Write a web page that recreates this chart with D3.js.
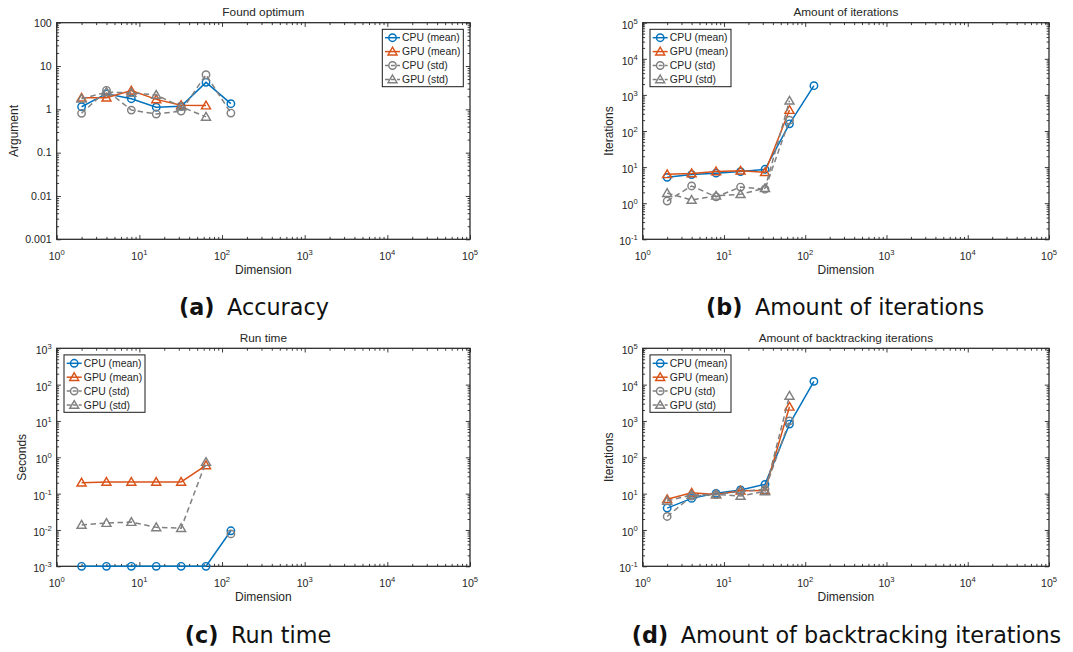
<!DOCTYPE html>
<html>
<head>
<meta charset="utf-8">
<script src="https://cdn.jsdelivr.net/npm/d3@7"></script>
<style>
  html, body { margin: 0; padding: 0; background: #fff; }
  svg { display: block; }
  .tick-label, .axis-label, .panel-title, .legend-text { font-family: "Liberation Sans", Arial, Helvetica, sans-serif; fill: #262626; }
  .caption { font-family: "DejaVu Sans", sans-serif; fill: #111; }
</style>
</head>
<body>
<svg id="fig" width="1073" height="652"></svg>
<script>
// Problem dimensions (x values shared by all four plots)
const dims = [2, 4, 8, 16, 32, 64, 128];

// (a) Found optimum
const accCpuMean = [1.15, 2.3, 1.76, 1.12, 1.18, 4.2, 1.35];
const accGpuMean = [1.85, 1.85, 2.7, 1.7, 1.25, 1.22, null];
const accCpuStd  = [0.81, 2.75, 0.96, 0.78, 0.91, 6.3, 0.82];
const accGpuStd  = [1.75, 2.5, 2.4, 2.15, 1.15, 0.67, null];

// (b) Amount of iterations
const itCpuMean = [5.2, 6.2, 6.8, 7.5, 8.7, 158, 1800];
const itGpuMean = [6.3, 6.7, 7.6, 7.9, 7.2, 380, null];
const itCpuStd  = [1.15, 3.0, 1.5, 2.8, 2.45, 200, null];
const itGpuStd  = [1.9, 1.23, 1.6, 1.77, 2.6, 690, null];

// (c) Run time in seconds
const rtCpuMean = [0.001, 0.001, 0.001, 0.001, 0.001, 0.001, 0.0095];
const rtGpuMean = [0.2, 0.21, 0.21, 0.21, 0.21, 0.6, null];
const rtCpuStd  = [null, null, null, null, null, null, 0.0078];
const rtGpuStd  = [0.0138, 0.0155, 0.0165, 0.0118, 0.0112, 0.74, null];

// (d) Amount of backtracking iterations
const btCpuMean = [4.0, 7.4, 10.2, 12.6, 18, 820, 12300];
const btGpuMean = [7.0, 10.5, 9.5, 12, 12.2, 2450, null];
const btCpuStd  = [2.35, 8.5, 9.4, 11.5, 13, 1000, null];
const btGpuStd  = [6.3, 9.2, 9.5, 8.6, 11.5, 4900, null];

const seriesNames = ["CPU (mean)", "GPU (mean)", "CPU (std)", "GPU (std)"];
const xTickExps = [0, 1, 2, 3, 4, 5];

const styles = [
  { color: "#0072BD", marker: "circle",   dash: null },
  { color: "#D95319", marker: "triangle", dash: null },
  { color: "#808080", marker: "circle",   dash: "5.5,3.5" },
  { color: "#808080", marker: "triangle", dash: "5.5,3.5" }
];

const svg = d3.select("#fig");

const panels = [
  { box: [56.7, 22.7, 470, 239.3], title: "Found optimum", ylabel: "Argument", ylabelX: 13.5,
    yDomain: [0.001, 100], yPlain: ["0.001", "0.01", "0.1", "1", "10", "100"], legend: "right",
    series: [accCpuMean, accGpuMean, accCpuStd, accGpuStd],
    capLetter: "(a)", capText: "Accuracy", capX: 254, capY: 314.5 },
  { box: [642.7, 22.7, 1049, 239.3], title: "Amount of iterations", ylabel: "Iterations", ylabelX: 608.5,
    yDomain: [0.1, 1e5], yPlain: null, legend: "left",
    series: [itCpuMean, itGpuMean, itCpuStd, itGpuStd],
    capLetter: "(b)", capText: "Amount of iterations", capX: 845, capY: 314.5 },
  { box: [56.7, 348.3, 470, 566.3], title: "Run time", ylabel: "Seconds", ylabelX: 21.5,
    yDomain: [0.001, 1000], yPlain: null, legend: "left",
    series: [rtCpuMean, rtGpuMean, rtCpuStd, rtGpuStd],
    capLetter: "(c)", capText: "Run time", capX: 258, capY: 642.5 },
  { box: [642.7, 348.3, 1049, 566.3], title: "Amount of backtracking iterations", ylabel: "Iterations", ylabelX: 608.5,
    yDomain: [0.1, 1e5], yPlain: null, legend: "left",
    series: [btCpuMean, btGpuMean, btCpuStd, btGpuStd],
    capLetter: "(d)", capText: "Amount of backtracking iterations", capX: 846.5, capY: 642.5 }
];

const trianglePath = "M0,-4.4L4.5,3.3L-4.5,3.3Z";

function drawMarker(g, kind, cx, cy, color) {
  if (kind === "circle") {
    g.append("circle").attr("cx", cx).attr("cy", cy).attr("r", 3.7)
      .attr("fill", "none").attr("stroke", color).attr("stroke-width", 1.45);
  } else {
    g.append("path").attr("d", trianglePath).attr("transform", `translate(${cx},${cy})`)
      .attr("fill", "none").attr("stroke", color).attr("stroke-width", 1.45)
      .attr("stroke-linejoin", "miter");
  }
}

// Tick values (major and minor) for a decade range
function logTicks(lo, hi) {
  const a = Math.round(Math.log10(lo)), b = Math.round(Math.log10(hi));
  const major = [], minor = [];
  for (let e = a; e <= b; e++) {
    major.push(Math.pow(10, e));
    if (e < b) for (let m = 2; m <= 9; m++) minor.push(m * Math.pow(10, e));
  }
  return { major, minor, a, b };
}

panels.forEach(p => {
  const [L, T, R, B] = p.box;
  const x = d3.scaleLog().domain([1, 1e5]).range([L, R]);
  const y = d3.scaleLog().domain(p.yDomain).range([B, T]);
  const g = svg.append("g");

  const xt = logTicks(1, 1e5);
  const yt = logTicks(p.yDomain[0], p.yDomain[1]);
  const axisColor = "#262626";

  // Ticks on all four sides via d3 axes (pointing inward), labels added separately
  const mk = (axisFn, scale, vals, size) =>
    axisFn(scale).tickValues(vals).tickSizeInner(size).tickSizeOuter(0).tickFormat(() => "");
  const addAxis = (axis, tx, ty) => {
    const ag = g.append("g").attr("transform", `translate(${tx},${ty})`).call(axis);
    ag.select(".domain").remove();
    ag.selectAll("line").attr("stroke", axisColor).attr("stroke-width", 0.9);
  };
  [[xt.major, 4.2], [xt.minor, 2.4]].forEach(([vals, s]) => {
    addAxis(mk(d3.axisBottom, x, vals, -s), 0, B);
    addAxis(mk(d3.axisTop, x, vals, -s), 0, T);
  });
  [[yt.major, 4.2], [yt.minor, 2.4]].forEach(([vals, s]) => {
    addAxis(mk(d3.axisLeft, y, vals, -s), L, 0);
    addAxis(mk(d3.axisRight, y, vals, -s), R, 0);
  });

  // Axes box
  g.append("rect").attr("x", L).attr("y", T).attr("width", R - L).attr("height", B - T)
    .attr("fill", "none").attr("stroke", axisColor).attr("stroke-width", 1.25);

  // X tick labels 10^e
  xTickExps.forEach(e => {
    const t = g.append("text").attr("class", "tick-label")
      .attr("x", x(Math.pow(10, e))).attr("y", B + 20.3)
      .attr("text-anchor", "middle").style("font-size", "10.6px");
    t.append("tspan").text("10");
    t.append("tspan").attr("dy", -5).style("font-size", "7.6px").text(String(e));
  });

  // Y tick labels
  yt.major.forEach((v, i) => {
    const yy = y(v);
    if (p.yPlain) {
      g.append("text").attr("class", "tick-label")
        .attr("x", L - 5).attr("y", yy + 3.8).attr("text-anchor", "end")
        .style("font-size", "10.6px").text(p.yPlain[i]);
    } else {
      const t = g.append("text").attr("class", "tick-label")
        .attr("x", L - 5).attr("y", yy + 6).attr("text-anchor", "end")
        .style("font-size", "10.6px");
      t.append("tspan").text("10");
      t.append("tspan").attr("dy", -5).style("font-size", "7.6px").text(String(yt.a + i));
    }
  });

  // Title and axis labels
  g.append("text").attr("class", "panel-title").attr("x", (L + R) / 2).attr("y", T - 6.5)
    .attr("text-anchor", "middle").style("font-size", "11.8px").text(p.title);
  g.append("text").attr("class", "axis-label").attr("x", (L + R) / 2).attr("y", B + 35)
    .attr("text-anchor", "middle").style("font-size", "12px").text("Dimension");
  g.append("text").attr("class", "axis-label")
    .attr("transform", `translate(${p.ylabelX + 4},${(T + B) / 2}) rotate(-90)`)
    .attr("text-anchor", "middle").style("font-size", "12px").text(p.ylabel);

  // Data lines and markers, in plotting order
  p.series.forEach((vals, si) => {
    const st = styles[si];
    const pts = dims.map((d, i) => ({ d, v: vals[i] }));
    const line = d3.line().defined(q => q.v != null).x(q => x(q.d)).y(q => y(q.v));
    g.append("path").attr("d", line(pts)).attr("fill", "none")
      .attr("stroke", st.color).attr("stroke-width", 1.5)
      .attr("stroke-dasharray", st.dash);
    pts.filter(q => q.v != null).forEach(q => drawMarker(g, st.marker, x(q.d), y(q.v), st.color));
  });

  // Legend
  const lw = 81, lh = 57.4;
  const lx = p.legend === "right" ? R - 6.7 - lw : L + 7.3;
  const ly = T + 6.6;
  const lg = g.append("g").attr("transform", `translate(${lx},${ly})`);
  lg.append("rect").attr("width", lw).attr("height", lh).attr("fill", "#fff")
    .attr("stroke", "#1a1a1a").attr("stroke-width", 1);
  seriesNames.forEach((name, i) => {
    const st = styles[i];
    const cy = 8.4 + i * 13.9;
    lg.append("line").attr("x1", 2.7).attr("x2", 17.7).attr("y1", cy).attr("y2", cy)
      .attr("stroke", st.color).attr("stroke-width", 1.5).attr("stroke-dasharray", st.dash ? "4,2" : null);
    drawMarker(lg, st.marker, 10.2, cy, st.color);
    lg.append("text").attr("class", "legend-text").attr("x", 19.8).attr("y", cy + 3.7)
      .style("font-size", "10.4px").text(name);
  });

  // Sub-figure caption
  const cap = svg.append("text").attr("class", "caption").attr("x", p.capX).attr("y", p.capY)
    .attr("text-anchor", "middle").style("font-size", "22.3px");
  cap.append("tspan").style("font-weight", "bold").text(p.capLetter);
  cap.append("tspan").attr("dx", 5.5).text(" " + p.capText);
});
</script>
</body>
</html>
